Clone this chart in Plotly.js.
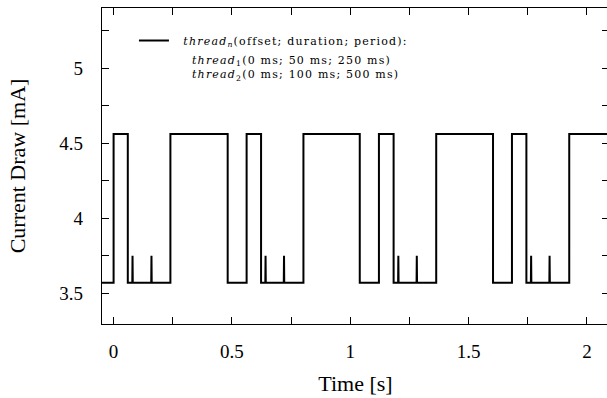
<!DOCTYPE html>
<html>
<head>
<meta charset="utf-8">
<script src="https://cdn.plot.ly/plotly-3.0.1.min.js"></script>
<style>
html,body{margin:0;padding:0;overflow:hidden;background:#fff;}
#chart{width:610px;height:398px;}
#chart text.legendtext, #chart text.annotation-text{letter-spacing:1.2px;}
</style>
</head>
<body>
<div id="chart"></div>
<script>
// Measured current draw (step vertices), time in s, current in mA
const timeS = [-0.05, 0.000, 0.000, 0.060, 0.060, 0.079, 0.080, 0.081, 0.159, 0.160, 0.161, 0.240, 0.240,
  0.482, 0.482, 0.562, 0.562, 0.623, 0.623, 0.641, 0.642, 0.643, 0.719, 0.720, 0.721, 0.802, 0.802,
  1.040, 1.040, 1.121, 1.121, 1.183, 1.183, 1.202, 1.203, 1.204, 1.280, 1.281, 1.282, 1.363, 1.363,
  1.603, 1.603, 1.683, 1.683, 1.744, 1.744, 1.763, 1.764, 1.765, 1.841, 1.842, 1.843, 1.925, 1.925, 2.10];
const currentMA = [3.57, 3.57, 4.56, 4.56, 3.57, 3.57, 3.75, 3.57, 3.57, 3.75, 3.57, 3.57, 4.56,
  4.56, 3.57, 3.57, 4.56, 4.56, 3.57, 3.57, 3.75, 3.57, 3.57, 3.75, 3.57, 3.57, 4.56,
  4.56, 3.57, 3.57, 4.56, 4.56, 3.57, 3.57, 3.75, 3.57, 3.57, 3.75, 3.57, 3.57, 4.56,
  4.56, 3.57, 3.57, 4.56, 4.56, 3.57, 3.57, 3.75, 3.57, 3.57, 3.75, 3.57, 3.57, 4.56, 4.56];

const xTickVals = [0, 0.25, 0.5, 0.75, 1, 1.25, 1.5, 1.75, 2];
const xTickText = ['0', '', '0.5', '', '1', '', '1.5', '', '2'];
const yTickVals = [3.5, 3.75, 4, 4.25, 4.5, 4.75, 5, 5.25];
const yTickText = ['3.5', '', '4', '', '4.5', '', '5', ''];

const legendTitle = '&nbsp;&nbsp;<i>thread</i><sub><i>n</i></sub>(offset; duration; period):&nbsp;&nbsp;&nbsp;&nbsp;&nbsp;&nbsp;&nbsp;&nbsp;&nbsp;&nbsp;&nbsp;&nbsp;';
const legendLines = [
  '<i>thread</i><sub>1</sub>(0 ms; 50 ms; 250 ms)',
  '<i>thread</i><sub>2</sub>(0 ms; 100 ms; 500 ms)'
];

const FONT = 'Liberation Serif, Times New Roman, serif';
const SMALLFONT = 'DejaVu Serif, serif';

const trace = {
  x: timeS, y: currentMA, type: 'scatter', mode: 'lines',
  line: {color: '#000', width: 2, shape: 'linear'},
  name: legendTitle, showlegend: true, hoverinfo: 'skip'
};

const layout = {
  width: 610, height: 398,
  margin: {l: 102, r: 1, t: 8, b: 74},
  paper_bgcolor: '#fff', plot_bgcolor: '#fff',
  font: {family: FONT, color: '#000', size: 19},
  showlegend: true,
  legend: {x: 0.063, y: 0.943, xanchor: 'left', yanchor: 'top',
    bgcolor: 'rgba(0,0,0,0)', font: {size: 11, family: SMALLFONT}, itemwidth: 30},
  xaxis: {
    range: [-0.049, 2.093], showgrid: false, zeroline: false,
    showline: true, linecolor: '#000', linewidth: 1.2, mirror: 'ticks',
    ticks: 'inside', ticklen: 7, tickwidth: 1, tickcolor: '#000',
    tickvals: xTickVals, ticktext: xTickText, ticklabelstandoff: 10,
    title: {text: 'Time [s]', font: {size: 22, family: FONT}, standoff: 14}
  },
  yaxis: {
    range: [3.295, 5.4], showgrid: false, zeroline: false,
    showline: true, linecolor: '#000', linewidth: 1.2, mirror: 'ticks',
    ticks: 'inside', ticklen: 7, tickwidth: 1, tickcolor: '#000',
    tickvals: yTickVals, ticktext: yTickText, ticklabelstandoff: 14,
    title: {text: 'Current Draw [mA]', font: {size: 22, family: FONT}, standoff: 27}
  },
  annotations: [{
    xref: 'paper', yref: 'paper', x: 0.1736, y: 0.809,
    xanchor: 'left', yanchor: 'middle', align: 'left', showarrow: false,
    text: legendLines.join('<br>'), font: {size: 11, family: SMALLFONT, color: '#000'}
  }]
};

Plotly.newPlot('chart', [trace], layout, {displayModeBar: false, staticPlot: true});
</script>
</body>
</html>
